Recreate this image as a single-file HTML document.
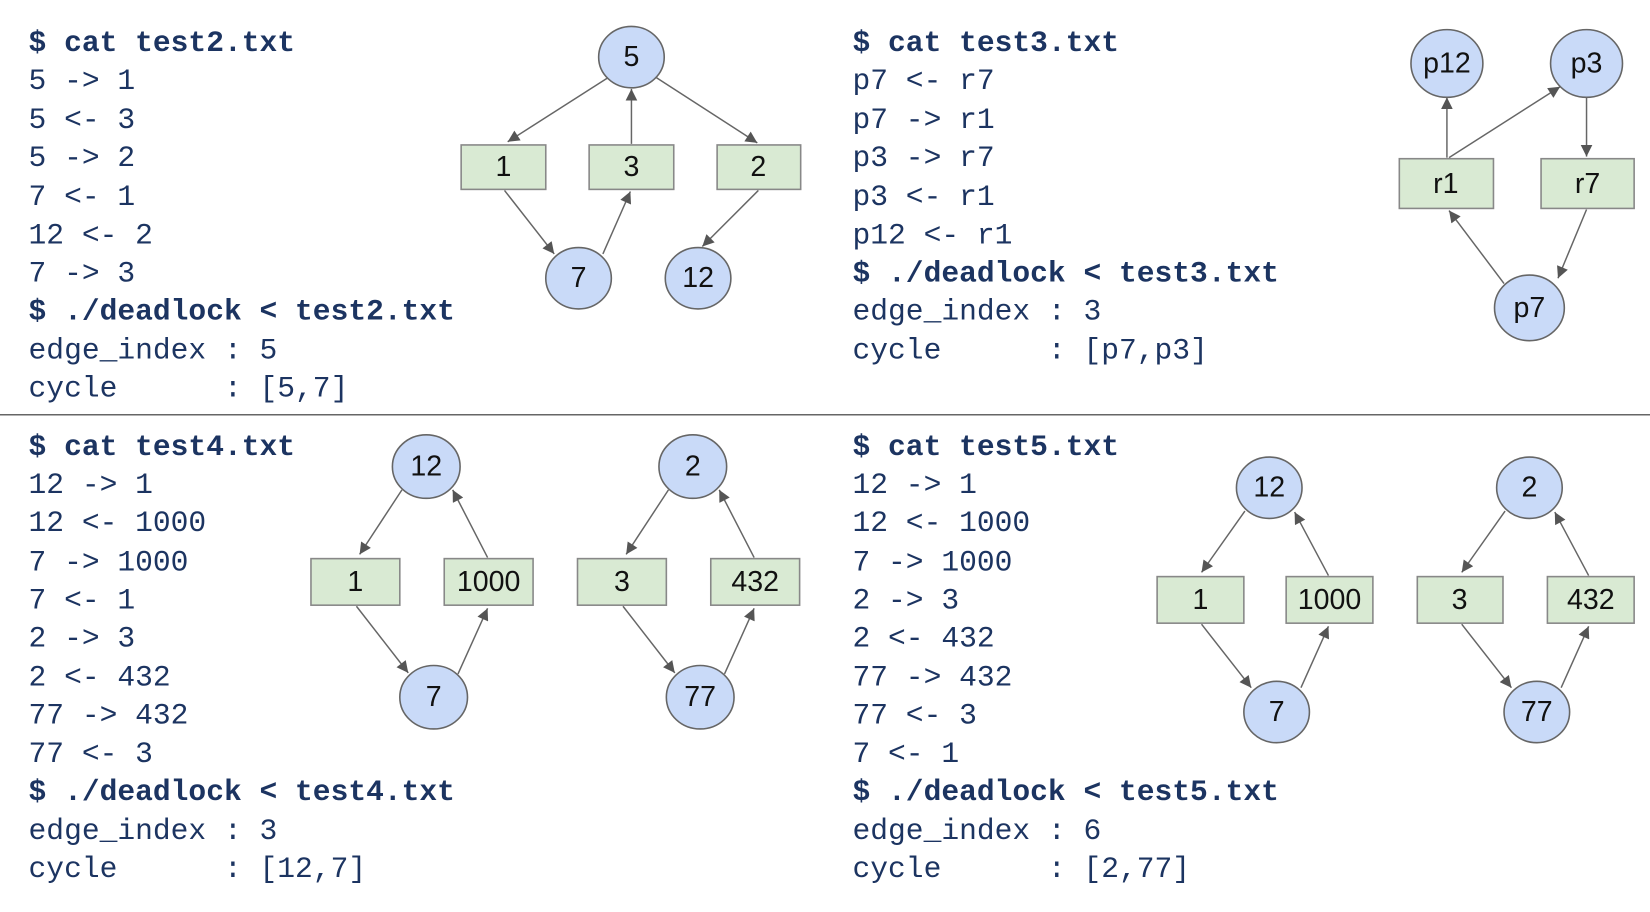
<!DOCTYPE html>
<html><head><meta charset="utf-8"><style>
html,body{margin:0;padding:0;background:#fff;}
svg{display:block;}
.t{font-family:"Liberation Mono",monospace;font-size:28px;fill:#1c3461;white-space:pre;}
.b{font-weight:bold;}
.n{font-family:"Liberation Sans Narrow","Liberation Sans",sans-serif;font-size:27px;fill:#111;text-anchor:middle;dominant-baseline:central;}
circle,ellipse{fill:#c9daf8;stroke:#666;stroke-width:1.5;}
rect{fill:#d9ead3;stroke:#888;stroke-width:1.5;}
line.e{stroke:#666;stroke-width:1.4;marker-end:url(#a);}
</style></head><body>
<svg width="1650" height="912" viewBox="0 0 1560 862" preserveAspectRatio="none" xmlns="http://www.w3.org/2000/svg">
<defs><marker id="a" viewBox="0 0 10 10" refX="10" refY="5" markerWidth="13" markerHeight="11" markerUnits="userSpaceOnUse" orient="auto"><path d="M0,0L10,5L0,10z" fill="#555"/></marker></defs>

<line x1="0" y1="392" x2="1560" y2="392" stroke="#666" stroke-width="1.5"/>

<g class="t">
<text x="27" y="48" class="b">$ cat test2.txt</text>
<text x="27" y="84">5 -&gt; 1</text>
<text x="27" y="121">5 &lt;- 3</text>
<text x="27" y="157">5 -&gt; 2</text>
<text x="27" y="194">7 &lt;- 1</text>
<text x="27" y="230">12 &lt;- 2</text>
<text x="27" y="266">7 -&gt; 3</text>
<text x="27" y="302" class="b">$ ./deadlock &lt; test2.txt</text>
<text x="27" y="339">edge_index : 5</text>
<text x="27" y="375">cycle&#160;&#160;&#160;&#160;&#160;&#160;: [5,7]</text>

<text x="806" y="48" class="b">$ cat test3.txt</text>
<text x="806" y="84">p7 &lt;- r7</text>
<text x="806" y="121">p7 -&gt; r1</text>
<text x="806" y="157">p3 -&gt; r7</text>
<text x="806" y="194">p3 &lt;- r1</text>
<text x="806" y="230">p12 &lt;- r1</text>
<text x="806" y="266" class="b">$ ./deadlock &lt; test3.txt</text>
<text x="806" y="302">edge_index : 3</text>
<text x="806" y="339">cycle&#160;&#160;&#160;&#160;&#160;&#160;: [p7,p3]</text>

<text x="27" y="430" class="b">$ cat test4.txt</text>
<text x="27" y="466">12 -&gt; 1</text>
<text x="27" y="502">12 &lt;- 1000</text>
<text x="27" y="539">7 -&gt; 1000</text>
<text x="27" y="575">7 &lt;- 1</text>
<text x="27" y="611">2 -&gt; 3</text>
<text x="27" y="648">2 &lt;- 432</text>
<text x="27" y="684">77 -&gt; 432</text>
<text x="27" y="720">77 &lt;- 3</text>
<text x="27" y="756" class="b">$ ./deadlock &lt; test4.txt</text>
<text x="27" y="793">edge_index : 3</text>
<text x="27" y="829">cycle&#160;&#160;&#160;&#160;&#160;&#160;: [12,7]</text>

<text x="806" y="430" class="b">$ cat test5.txt</text>
<text x="806" y="466">12 -&gt; 1</text>
<text x="806" y="502">12 &lt;- 1000</text>
<text x="806" y="539">7 -&gt; 1000</text>
<text x="806" y="575">2 -&gt; 3</text>
<text x="806" y="611">2 &lt;- 432</text>
<text x="806" y="648">77 -&gt; 432</text>
<text x="806" y="684">77 &lt;- 3</text>
<text x="806" y="720">7 &lt;- 1</text>
<text x="806" y="756" class="b">$ ./deadlock &lt; test5.txt</text>
<text x="806" y="793">edge_index : 6</text>
<text x="806" y="829">cycle&#160;&#160;&#160;&#160;&#160;&#160;: [2,77]</text>
</g>

<!-- graph 1 -->
<line class="e" x1="574" y1="74" x2="480" y2="134"/>
<line class="e" x1="597" y1="136" x2="597" y2="84"/>
<line class="e" x1="620" y1="73" x2="716" y2="135"/>
<line class="e" x1="477" y1="180" x2="524" y2="240"/>
<line class="e" x1="570" y1="240" x2="596" y2="181"/>
<line class="e" x1="717" y1="180" x2="664" y2="233"/>
<ellipse cx="597" cy="54" rx="31" ry="29"/><text class="n" x="597" y="54">5</text>
<rect x="436" y="137" width="80" height="42"/><text class="n" x="476" y="158">1</text>
<rect x="557" y="137" width="80" height="42"/><text class="n" x="597" y="158">3</text>
<rect x="678" y="137" width="79" height="42"/><text class="n" x="717" y="158">2</text>
<ellipse cx="547" cy="263" rx="31" ry="29"/><text class="n" x="547" y="263">7</text>
<ellipse cx="660" cy="263" rx="31" ry="29"/><text class="n" x="660" y="263">12</text>

<!-- graph 2 -->
<line class="e" x1="1368" y1="149" x2="1368" y2="92"/>
<line class="e" x1="1370" y1="149" x2="1475" y2="82"/>
<line class="e" x1="1500" y1="92" x2="1500" y2="148"/>
<line class="e" x1="1422" y1="268" x2="1370" y2="199"/>
<line class="e" x1="1500" y1="198" x2="1473" y2="263"/>
<ellipse cx="1368" cy="60" rx="34" ry="32"/><text class="n" x="1368" y="60">p12</text>
<ellipse cx="1500" cy="60" rx="34" ry="32"/><text class="n" x="1500" y="60">p3</text>
<rect x="1323" y="150" width="89" height="47"/><text class="n" x="1367" y="174">r1</text>
<rect x="1457" y="150" width="88" height="47"/><text class="n" x="1501" y="174">r7</text>
<ellipse cx="1446" cy="291" rx="33" ry="31"/><text class="n" x="1446" y="291">p7</text>

<!-- graph 3 -->
<g>
<line class="e" x1="380" y1="463" x2="340" y2="524"/>
<line class="e" x1="461" y1="527" x2="428" y2="463"/>
<line class="e" x1="337" y1="573" x2="386" y2="636"/>
<line class="e" x1="433" y1="637" x2="461" y2="575"/>
<line class="e" x1="632" y1="463" x2="592" y2="524"/>
<line class="e" x1="713" y1="527" x2="680" y2="463"/>
<line class="e" x1="589" y1="573" x2="638" y2="636"/>
<line class="e" x1="685" y1="637" x2="713" y2="575"/>
<ellipse cx="403" cy="441" rx="32" ry="30"/><text class="n" x="403" y="441">12</text>
<ellipse cx="655" cy="441" rx="32" ry="30"/><text class="n" x="655" y="441">2</text>
<ellipse cx="410" cy="659" rx="32" ry="30"/><text class="n" x="410" y="659">7</text>
<ellipse cx="662" cy="659" rx="32" ry="30"/><text class="n" x="662" y="659">77</text>
<rect x="294" y="528" width="84" height="44"/><text class="n" x="336" y="550">1</text>
<rect x="420" y="528" width="84" height="44"/><text class="n" x="462" y="550">1000</text>
<rect x="546" y="528" width="84" height="44"/><text class="n" x="588" y="550">3</text>
<rect x="672" y="528" width="84" height="44"/><text class="n" x="714" y="550">432</text>
</g>

<!-- graph 4 -->
<g>
<line class="e" x1="1177" y1="483" x2="1136" y2="541"/>
<line class="e" x1="1256" y1="544" x2="1224" y2="484"/>
<line class="e" x1="1136" y1="590" x2="1183" y2="650"/>
<line class="e" x1="1230" y1="650" x2="1256" y2="592"/>
<line class="e" x1="1423" y1="483" x2="1382" y2="541"/>
<line class="e" x1="1502" y1="544" x2="1470" y2="484"/>
<line class="e" x1="1382" y1="590" x2="1429" y2="650"/>
<line class="e" x1="1476" y1="650" x2="1502" y2="592"/>
<ellipse cx="1200" cy="461" rx="31" ry="29"/><text class="n" x="1200" y="461">12</text>
<ellipse cx="1446" cy="461" rx="31" ry="29"/><text class="n" x="1446" y="461">2</text>
<ellipse cx="1207" cy="673" rx="31" ry="29"/><text class="n" x="1207" y="673">7</text>
<ellipse cx="1453" cy="673" rx="31" ry="29"/><text class="n" x="1453" y="673">77</text>
<rect x="1094" y="545" width="82" height="44"/><text class="n" x="1135" y="567">1</text>
<rect x="1216" y="545" width="82" height="44"/><text class="n" x="1257" y="567">1000</text>
<rect x="1340" y="545" width="81" height="44"/><text class="n" x="1380" y="567">3</text>
<rect x="1463" y="545" width="82" height="44"/><text class="n" x="1504" y="567">432</text>
</g>
</svg>
</body></html>
